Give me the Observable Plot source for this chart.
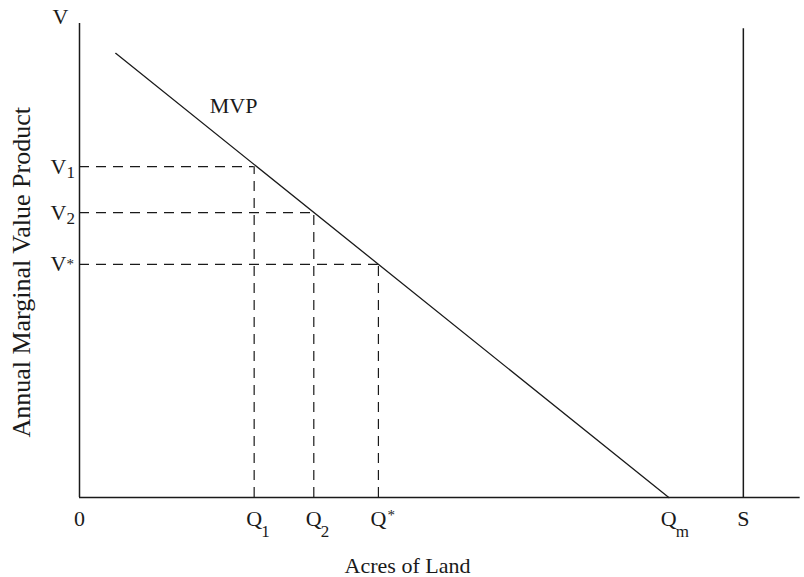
<!DOCTYPE html>
<html>
<head>
<meta charset="utf-8">
<script src="https://cdn.jsdelivr.net/npm/d3@7"></script>
<script src="https://cdn.jsdelivr.net/npm/@observablehq/plot@0.6"></script>
<style>
  html, body { margin: 0; padding: 0; background: #fff; }
  #chart svg { display: block; }
</style>
</head>
<body>
<div id="chart"></div>
<script>
// ---- data (arbitrary units) ----
const axisTitleX = "Acres of Land";
const axisTitleY = "Annual Marginal Value Product";
const axisNameY = "V";

// x-axis tick positions and labels
const xTickValues = [0, 24.6, 33.0, 42.1, 83.0, 93.5];
const xTickMain   = ["0", "Q", "Q", "Q", "Q", "S"];
const xTickSub    = ["", "1", "2", "", "m", ""];
const xTickSup    = ["", "", "", "*", "", ""];

// y-axis tick positions and labels
const yTickValues = [69.8, 60.1, 49.2];
const yTickMain   = ["V", "V", "V"];
const yTickSub    = ["1", "2", ""];
const yTickSup    = ["", "", "*"];

// guide pairs (Q_i, V_i) on the MVP curve
const guideQ = [24.6, 33.0, 42.1];
const guideV = [69.8, 60.1, 49.2];

// MVP line end points
const mvpX = [5.1, 83.0];
const mvpY = [93.7, 0];
const mvpLabel = "MVP";
const mvpLabelAt = [21.7, 82.5];

// fixed supply S
const supplyX = 93.5;
const supplyTop = 98.9;

// axis extents
const xAxisEnd = 101.5;
const yAxisTop = 100;

// ---- build tables ----
const xTicks = xTickValues.map((v, i) => ({x: v, main: xTickMain[i], sub: xTickSub[i], sup: xTickSup[i]}));
const yTicks = yTickValues.map((v, i) => ({y: v, main: yTickMain[i], sub: yTickSub[i], sup: yTickSup[i]}));
const guides = guideQ.map((q, i) => ({q, v: guideV[i]}));
const mvp = mvpX.map((x, i) => ({x, y: mvpY[i]}));

const ink = "#1a1a1a";
const font = "Liberation Serif, Times New Roman, serif";

const chart = Plot.plot({
  width: 804,
  height: 577,
  marginLeft: 79,
  marginRight: 15,
  marginTop: 23,
  marginBottom: 80,
  x: {domain: [0, 100], axis: null},
  y: {domain: [0, 100], axis: null},
  style: {background: "#fff", fontFamily: font, color: ink},
  marks: [
    // dashed guides
    Plot.ruleY(guides, {y: "v", x1: 0, x2: "q", stroke: ink, strokeWidth: 1.2, strokeDasharray: "10,7"}),
    Plot.ruleX(guides, {x: "q", y1: 0, y2: "v", stroke: ink, strokeWidth: 1.2, strokeDasharray: "10,7"}),
    // axes
    Plot.ruleX([0], {y1: 0, y2: yAxisTop, stroke: ink, strokeWidth: 1.5}),
    Plot.ruleY([0], {x1: 0, x2: xAxisEnd, stroke: ink, strokeWidth: 1.5}),
    // supply
    Plot.ruleX([supplyX], {y1: 0, y2: supplyTop, stroke: ink, strokeWidth: 1.5}),
    // MVP
    Plot.line(mvp, {x: "x", y: "y", stroke: ink, strokeWidth: 1.3}),
    Plot.text([mvpLabel], {x: () => mvpLabelAt[0], y: () => mvpLabelAt[1], text: d => d, fontSize: 22, fill: ink, lineAnchor: "middle"}),
    // y-axis name
    Plot.text([axisNameY], {x: () => 0, y: () => yAxisTop, text: d => d, fontSize: 22, fill: ink, dx: -19, dy: -7, lineAnchor: "middle"}),
    // x ticks
    Plot.text(xTicks, {x: "x", y: () => 0, text: "main", fontSize: 22, fill: ink, lineAnchor: "top", dy: 13}),
    Plot.text(xTicks, {x: "x", y: () => 0, text: "sub", fontSize: 17, fill: ink, textAnchor: "start", lineAnchor: "top", dx: 7, dy: 27}),
    Plot.text(xTicks, {x: "x", y: () => 0, text: "sup", fontSize: 15, fill: ink, textAnchor: "start", lineAnchor: "top", dx: 9, dy: 12}),
    // y ticks
    Plot.text(yTicks, {x: () => 0, y: "y", text: "main", fontSize: 22, fill: ink, textAnchor: "end", lineAnchor: "middle", dx: -13}),
    Plot.text(yTicks, {x: () => 0, y: "y", text: "sub", fontSize: 17, fill: ink, textAnchor: "start", lineAnchor: "middle", dx: -13, dy: 6}),
    Plot.text(yTicks, {x: () => 0, y: "y", text: "sup", fontSize: 15, fill: ink, textAnchor: "start", lineAnchor: "top", dx: -13, dy: -6}),
    // axis titles
    Plot.text([axisTitleX], {x: () => 46.2, y: () => 0, text: d => d, fontSize: 22, fill: ink, lineAnchor: "middle", dy: 68}),
    Plot.text([axisTitleY], {frameAnchor: "left", y: () => 47.5, text: d => d, fontSize: 26, fill: ink, rotate: -90, textAnchor: "middle", lineAnchor: "middle", dx: -58})
  ]
});
document.getElementById("chart").appendChild(chart);
</script>
</body>
</html>
